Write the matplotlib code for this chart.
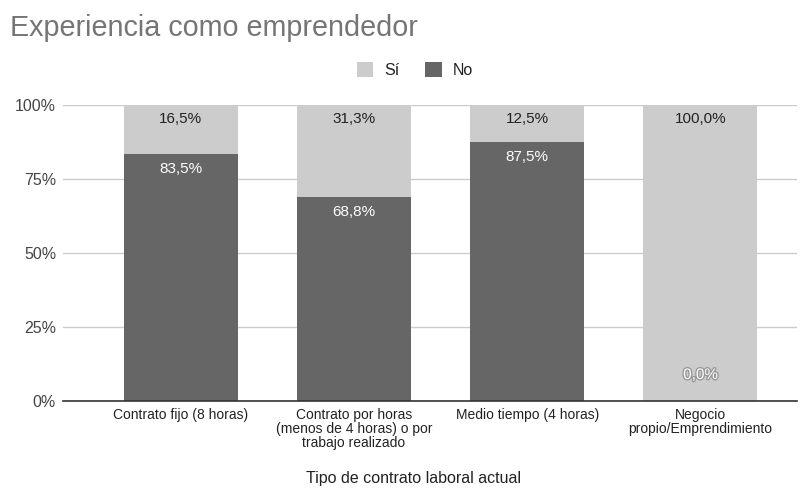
import matplotlib
matplotlib.use("Agg")
import matplotlib.pyplot as plt
import matplotlib.patheffects as pe
from matplotlib.patches import Patch
from matplotlib.ticker import FixedLocator

categories = ["Contrato fijo (8 horas)",
              "Contrato por horas\n(menos de 4 horas) o por\ntrabajo realizado",
              "Medio tiempo (4 horas)",
              "Negocio\npropio/Emprendimiento"]
no_vals = [83.5, 68.8, 87.5, 0.0]
si_vals = [16.5, 31.3, 12.5, 100.0]
yticks = [0, 25, 50, 75, 100]

LIGHT = "#cccccc"
DARK = "#666666"

plt.rcParams['font.family'] = ['Liberation Sans', 'DejaVu Sans']

fig = plt.figure(figsize=(8.07, 4.93), dpi=100)
W, H = 807, 493
ax = fig.add_axes([63 / W, 1 - 401 / H, (797 - 63) / W, (401 - 105) / H])

x = list(range(len(categories)))
bw = 114 / 173.3
ax.bar(x, no_vals, width=bw, color=DARK, zorder=2)
ax.bar(x, si_vals, width=bw, bottom=no_vals, color=LIGHT, zorder=2)

ax.set_xlim(-0.678, 3 + (797 - 700.5) / 173.3)
ax.set_ylim(0, 100)
ax.yaxis.set_major_locator(FixedLocator(yticks))
ax.set_yticklabels([f"{t}%" for t in yticks], fontsize=11.5, color="#444444")
ax.set_xticks(x)
ax.set_xticklabels(categories, fontsize=10, color="#222222", linespacing=1.0)
ax.tick_params(axis='both', length=0, pad=5)
ax.grid(axis='y', color="#cccccc", linewidth=1, zorder=0)
for s in ["top", "right", "left"]:
    ax.spines[s].set_visible(False)
ax.spines["bottom"].set_color("#333333")
ax.spines["bottom"].set_linewidth(1.2)
ax.spines["bottom"].set_zorder(3)

px = 100 / 296  # data units per pixel
for xi, n, s in zip(x, no_vals, si_vals):
    top = n + s
    ax.text(xi, top - 14 * px, f"{s:.1f}%".replace(".", ","), ha="center", va="center",
            fontsize=11, color="#222222", zorder=4)
    if n > 0:
        ax.text(xi, n - 15 * px, f"{n:.1f}%".replace(".", ","), ha="center", va="center",
                fontsize=11, color="white", zorder=4)
    else:
        ax.text(xi, 26 * px, f"{n:.1f}%".replace(".", ","), ha="center", va="center",
                fontsize=11, color="white", zorder=4,
                path_effects=[pe.withStroke(linewidth=2, foreground="#999999")])

fig.text(10 / W, 1 - 28 / H, "Experiencia como emprendedor", fontsize=20.7,
         color="#757575", ha="left", va="center")

handles = [Patch(facecolor=LIGHT, label="Sí"), Patch(facecolor=DARK, label="No")]
fig.legend(handles=handles, loc="center", bbox_to_anchor=(415 / W, 1 - 70 / H), ncol=2,
           frameon=False, fontsize=11.5, handlelength=1.05, handleheight=1.05,
           handletextpad=0.7, columnspacing=1.6, labelcolor="#222222")

fig.text(414 / W, 1 - 478 / H, "Tipo de contrato laboral actual", fontsize=11.5,
         color="#222222", ha="center", va="center")

fig.savefig("out.png", dpi=100)
